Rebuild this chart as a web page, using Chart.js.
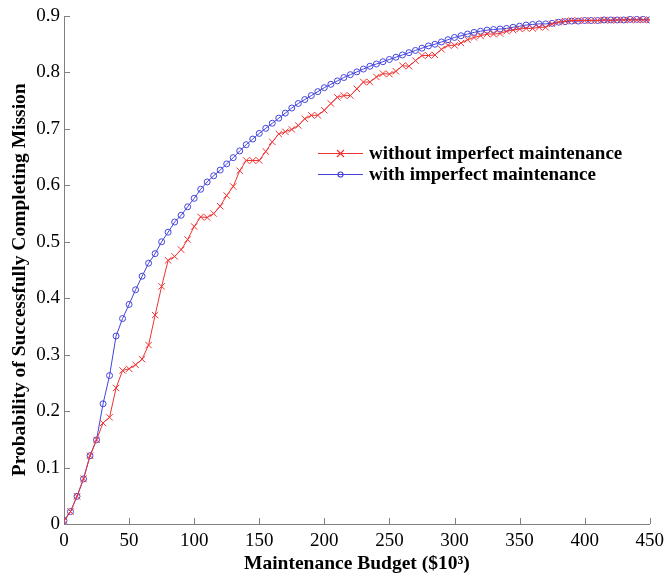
<!DOCTYPE html>
<html>
<head>
<meta charset="utf-8">
<script src="https://cdn.jsdelivr.net/npm/chart.js@4/dist/chart.umd.min.js"></script>
<style>
  body { margin: 0; background: #fff; }
  #wrap { width: 670px; height: 576px; }
</style>
</head>
<body>
<div id="wrap"><canvas id="chart" width="670" height="576"></canvas></div>
<script>
// maintenance budget ($10^3)
const budget = [
  0, 5, 10, 15, 20, 25, 30, 35, 40, 45, 50, 55, 60, 65, 70, 75, 80, 85, 90, 95,
  100, 105, 110, 115, 120, 125, 130, 135, 140, 145, 150, 155, 160, 165, 170, 175, 180, 185, 190, 195,
  200, 205, 210, 215, 220, 225, 230, 235, 240, 245, 250, 255, 260, 265, 270, 275, 280, 285, 290, 295,
  300, 305, 310, 315, 320, 325, 330, 335, 340, 345, 350, 355, 360, 365, 370, 375, 380, 385, 390, 395,
  400, 405, 410, 415, 420, 425, 430, 435, 440, 445, 450
];

const withoutImperfect = [
  0.006, 0.022, 0.049, 0.080, 0.121, 0.149, 0.179, 0.189, 0.241, 0.272, 0.275, 0.282, 0.292, 0.317, 0.370, 0.421, 0.467, 0.474, 0.486, 0.504,
  0.527, 0.544, 0.543, 0.550, 0.563, 0.582, 0.598, 0.626, 0.644, 0.644, 0.644, 0.660, 0.677, 0.691, 0.695, 0.699, 0.706, 0.718, 0.724, 0.724,
  0.733, 0.745, 0.756, 0.759, 0.759, 0.771, 0.783, 0.783, 0.792, 0.798, 0.797, 0.802, 0.812, 0.811, 0.821, 0.830, 0.830, 0.831, 0.841, 0.848,
  0.848, 0.852, 0.858, 0.862, 0.865, 0.868, 0.868, 0.869, 0.873, 0.875, 0.877, 0.878, 0.878, 0.880, 0.880, 0.886, 0.889, 0.891, 0.892, 0.892,
  0.892, 0.892, 0.892, 0.893, 0.892, 0.893, 0.893, 0.893, 0.893, 0.893, 0.893
];

const withImperfect = [
  0.006, 0.022, 0.049, 0.080, 0.121, 0.149, 0.213, 0.263, 0.333, 0.364, 0.389, 0.415, 0.439, 0.462, 0.479, 0.500, 0.517, 0.535, 0.547, 0.562,
  0.577, 0.593, 0.606, 0.617, 0.627, 0.638, 0.649, 0.661, 0.672, 0.682, 0.692, 0.701, 0.710, 0.719, 0.728, 0.737, 0.745, 0.752, 0.759, 0.766,
  0.773, 0.779, 0.785, 0.791, 0.796, 0.801, 0.806, 0.811, 0.815, 0.819, 0.823, 0.827, 0.831, 0.835, 0.839, 0.843, 0.847, 0.850, 0.854, 0.858,
  0.862, 0.865, 0.868, 0.871, 0.873, 0.875, 0.876, 0.877, 0.878, 0.880, 0.882, 0.884, 0.885, 0.886, 0.886, 0.887, 0.889, 0.890, 0.891, 0.891,
  0.892, 0.892, 0.892, 0.893, 0.893, 0.893, 0.893, 0.894, 0.894, 0.894, 0.893
];

const seriesLabels = ['without imperfect maintenance', 'with imperfect maintenance'];

const RED = '#ee3333';
const BLUE = '#4444dd';
const AXIS = '#808080';
const SERIF = '"Liberation Serif", "Times New Roman", serif';

const toPoints = ys => budget.map((x, i) => ({ x: x, y: ys[i] }));

// matlab style ticks pointing into the plot
const inwardTicks = {
  id: 'inwardTicks',
  beforeDatasetsDraw (chart) {
    const { ctx, chartArea } = chart;
    const xs = chart.scales.x, ys = chart.scales.y;
    ctx.save();
    ctx.strokeStyle = AXIS;
    ctx.lineWidth = 1;
    ctx.beginPath();
    xs.ticks.forEach(t => {
      if (t.value === 0) return;
      const px = Math.round(xs.getPixelForValue(t.value)) + 0.5;
      ctx.moveTo(px, chartArea.bottom);
      ctx.lineTo(px, chartArea.bottom - 6);
    });
    ys.ticks.forEach(t => {
      if (t.value === 0) return;
      const py = Math.round(ys.getPixelForValue(t.value)) + 0.5;
      ctx.moveTo(chartArea.left, py);
      ctx.lineTo(chartArea.left + 6, py);
    });
    ctx.stroke();
    ctx.restore();
  }
};

// legend sits inside the plot, no box
const legendColors = [RED, BLUE];
const insideLegend = {
  id: 'insideLegend',
  afterDraw (chart) {
    const { ctx } = chart;
    const x0 = 318, x1 = 363, textX = 369;
    const rows = [153, 174];
    chart.data.datasets.forEach((ds, i) => {
      const y = rows[i] + 0.5;
      const cx = (x0 + x1) / 2;
      ctx.save();
      ctx.globalAlpha = 1;
      ctx.setLineDash([]);
      ctx.strokeStyle = legendColors[i];
      ctx.lineWidth = 1.2;
      ctx.beginPath();
      ctx.moveTo(x0, y);
      ctx.lineTo(x1, y);
      ctx.stroke();
      ctx.beginPath();
      if (i === 0) {
        const r = 3.5;
        ctx.moveTo(cx - r, y - r);
        ctx.lineTo(cx + r, y + r);
        ctx.moveTo(cx - r, y + r);
        ctx.lineTo(cx + r, y - r);
      } else {
        ctx.arc(cx, y, 2.5, 0, Math.PI * 2);
      }
      ctx.stroke();
      ctx.fillStyle = '#000';
      ctx.font = 'bold 19px ' + SERIF;
      ctx.textBaseline = 'middle';
      ctx.textAlign = 'left';
      ctx.fillText(ds.label, textX, y + 0.5);
      ctx.restore();
    });
  }
};

new Chart(document.getElementById('chart'), {
  type: 'line',
  data: {
    datasets: [
      {
        label: seriesLabels[0],
        data: toPoints(withoutImperfect),
        borderColor: RED,
        backgroundColor: 'transparent',
        borderWidth: 1,
        pointStyle: 'crossRot',
        pointRadius: 4.5,
        pointBorderWidth: 1,
        pointBorderColor: RED,
        tension: 0
      },
      {
        label: seriesLabels[1],
        data: toPoints(withImperfect),
        borderColor: BLUE,
        backgroundColor: 'transparent',
        borderWidth: 1,
        pointStyle: 'circle',
        pointRadius: 3,
        pointBorderWidth: 1,
        pointBorderColor: BLUE,
        pointBackgroundColor: 'transparent',
        tension: 0
      }
    ]
  },
  options: {
    responsive: false,
    animation: false,
    layout: { padding: { top: 16, right: 18, left: 0, bottom: 0 } },
    plugins: {
      legend: { display: false },
      tooltip: { enabled: false }
    },
    scales: {
      x: {
        type: 'linear',
        min: 0,
        max: 450,
        ticks: {
          stepSize: 50,
          color: '#000',
          padding: 6,
          maxRotation: 0,
          font: { family: SERIF, size: 19 }
        },
        grid: { drawOnChartArea: false, drawTicks: false },
        border: { display: true, color: AXIS, width: 1 },
        title: {
          display: true,
          text: 'Maintenance Budget ($10³)',
          color: '#000',
          padding: { top: 0, bottom: 0 },
          font: { family: SERIF, size: 19.5, weight: 'bold' }
        },
        afterFit (scale) { scale.height = 52; }
      },
      y: {
        min: 0,
        max: 0.9,
        ticks: {
          stepSize: 0.1,
          color: '#000',
          padding: 4,
          font: { family: SERIF, size: 19 },
          callback: v => Number(v.toFixed(1)).toString()
        },
        grid: { drawOnChartArea: false, drawTicks: false },
        border: { display: true, color: AXIS, width: 1 },
        title: {
          display: true,
          // trailing spaces push the label a little lower, as in the original
          text: 'Probability of Successfully Completing Mission    ',
          color: '#000',
          padding: { top: 8, bottom: 0 },
          font: { family: SERIF, size: 19.5, weight: 'bold' }
        },
        afterFit (scale) { scale.width = 64; }
      }
    }
  },
  plugins: [inwardTicks, insideLegend]
});
</script>
</body>
</html>
